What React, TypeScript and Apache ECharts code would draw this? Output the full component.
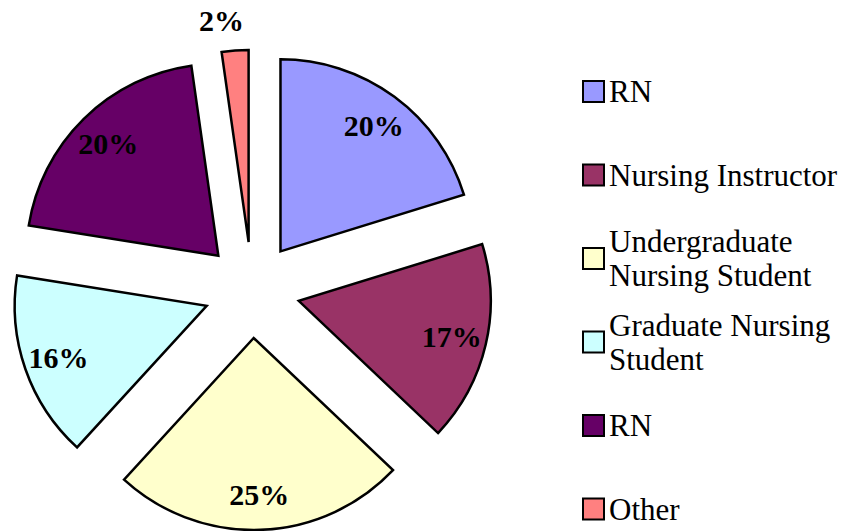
import React, { useEffect, useRef } from 'react';
import * as echarts from 'echarts';

const categories = ['RN', 'Nursing Instructor', 'Undergraduate Nursing Student', 'Graduate Nursing Student', 'RN ', 'Other'];
const counts = [18, 15, 22, 14, 18, 2];
const colors = ['#9999FF', '#993366', '#FFFFCC', '#CCFFFF', '#660066', '#FF8080'];
const legendLabels = ['RN', 'Nursing Instructor', 'Undergraduate\nNursing Student', 'Graduate Nursing\nStudent', 'RN', 'Other'];

export default function App() {
  const ref = useRef<HTMLDivElement>(null);
  useEffect(() => {
    document.body.style.margin = '0';
    const chart = echarts.init(ref.current as HTMLDivElement, null, { renderer: 'svg' });
    const serif = "'Liberation Serif', 'Times New Roman', serif";
    const center = [252, 290];
    const outerR = 192;
    const offset = 48;
    const lineH = 34;
    const pct = (p: any) => Math.round(p.percent) + '%';

    const legends = categories.map((name, i) => {
      const n = legendLabels[i].split('\n').length;
      const c = 91.5 + 83.5 * i;
      return {
        data: [name],
        orient: 'vertical',
        left: 582,
        top: c - ((2 * n - 1) * lineH) / 2,
        padding: 0,
        icon: 'rect',
        itemWidth: 21,
        itemHeight: 21,
        selectedMode: false,
        itemStyle: { borderColor: '#000', borderWidth: 2 },
        formatter: () => legendLabels[i],
        textStyle: {
          fontSize: 31,
          fontFamily: serif,
          color: '#000',
          lineHeight: lineH,
          padding: [(n - 1) * lineH, 0, 0, 0],
        },
      };
    });

    const baseData = (withLabel: boolean) =>
      categories.map((name, i) => {
        const item: any = { name, value: counts[i], selected: true, itemStyle: withLabel ? {} : { color: colors[i] } };
        if (withLabel && name === 'Other') {
          item.label = { position: 'outside', distanceToLabelLine: -11 };
        }
        return item;
      });

    chart.setOption({
      animation: false,
      backgroundColor: '#fff',
      legend: legends,
      series: [
        {
          type: 'pie',
          center,
          radius: [0, outerR],
          startAngle: 90,
          clockwise: true,
          selectedMode: 'multiple',
          selectedOffset: offset,
          silent: true,
          label: { show: false },
          labelLine: { show: false },
          itemStyle: { borderColor: '#000', borderWidth: 2.5, borderJoin: 'miter' },
          emphasis: { disabled: true },
          select: { itemStyle: { borderColor: '#000', borderWidth: 2.5 } },
          data: baseData(false),
        },
        {
          type: 'pie',
          center,
          radius: [116, outerR],
          startAngle: 90,
          clockwise: true,
          selectedMode: 'multiple',
          selectedOffset: offset,
          silent: true,
          avoidLabelOverlap: false,
          itemStyle: { color: 'rgba(0,0,0,0)', borderWidth: 0 },
          emphasis: { disabled: true },
          select: { itemStyle: { color: 'rgba(0,0,0,0)', borderWidth: 0 } },
          label: {
            show: true,
            position: 'inside',
            formatter: pct,
            fontSize: 30,
            fontWeight: 'bold',
            fontFamily: serif,
            color: '#000',
            textBorderWidth: 0,
          },
          labelLine: { show: false, length: 30, length2: 0 },
          data: baseData(true),
        },
      ],
    });
    return () => chart.dispose();
  }, []);
  return <div ref={ref} style={{ width: 850, height: 531 }} />;
}
